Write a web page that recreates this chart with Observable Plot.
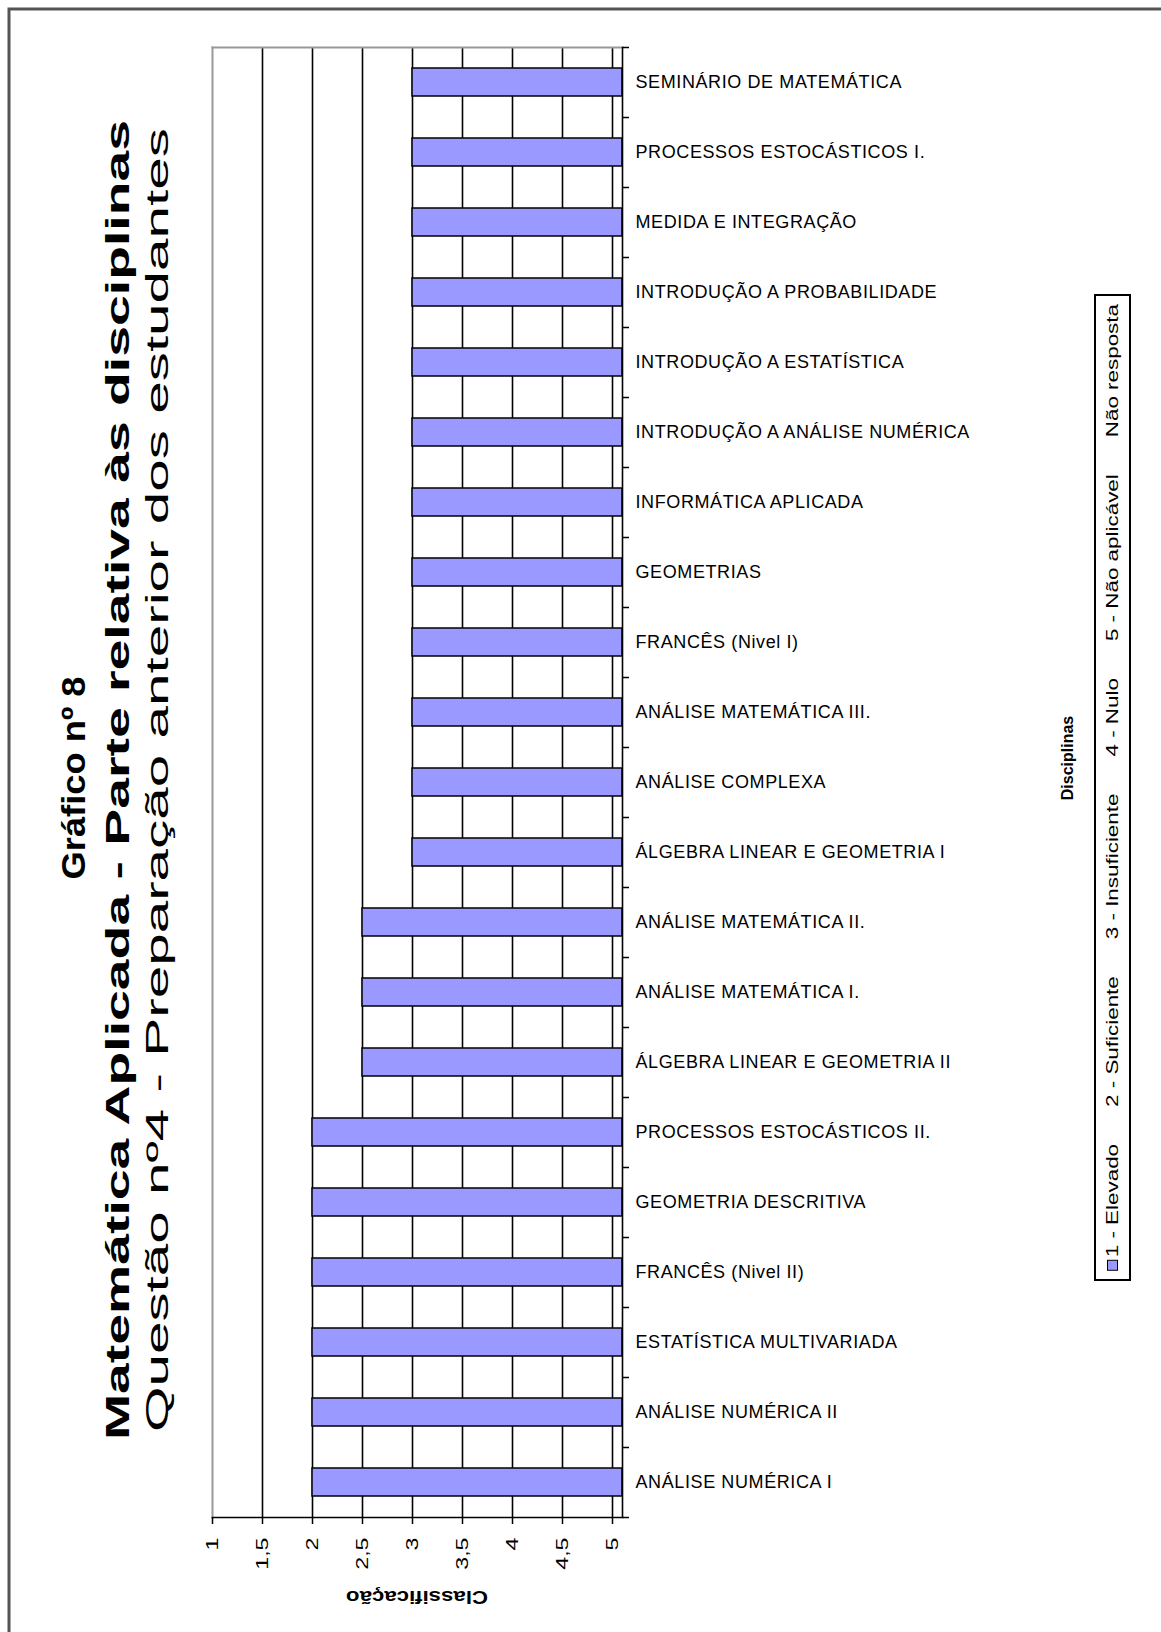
<!DOCTYPE html>
<html><head><meta charset="utf-8">
<script src="https://cdn.jsdelivr.net/npm/d3@7"></script>
<script src="https://cdn.jsdelivr.net/npm/@observablehq/plot@0.6"></script>
<style>
body{margin:0;background:#fff;}
#chart{position:relative;width:1161px;height:1632px;overflow:hidden;background:#fff;}
#chart svg{display:block;}
</style>
</head><body><div id="chart"></div>
<script>
// ---- data ----
const categories = [
  "SEMINÁRIO DE MATEMÁTICA",
  "PROCESSOS ESTOCÁSTICOS I.",
  "MEDIDA E INTEGRAÇÃO",
  "INTRODUÇÃO A PROBABILIDADE",
  "INTRODUÇÃO A ESTATÍSTICA",
  "INTRODUÇÃO A ANÁLISE NUMÉRICA",
  "INFORMÁTICA APLICADA",
  "GEOMETRIAS",
  "FRANCÊS (Nivel I)",
  "ANÁLISE MATEMÁTICA III.",
  "ANÁLISE COMPLEXA",
  "ÁLGEBRA LINEAR E GEOMETRIA I",
  "ANÁLISE MATEMÁTICA II.",
  "ANÁLISE MATEMÁTICA I.",
  "ÁLGEBRA LINEAR E GEOMETRIA II",
  "PROCESSOS ESTOCÁSTICOS II.",
  "GEOMETRIA DESCRITIVA",
  "FRANCÊS (Nivel II)",
  "ESTATÍSTICA MULTIVARIADA",
  "ANÁLISE NUMÉRICA II",
  "ANÁLISE NUMÉRICA I"
];
const values = [3,3,3,3,3,3,3,3,3,3,3,3,2.5,2.5,2.5,2,2,2,2,2,2];
const xTicks = [1,1.5,2,2.5,3,3.5,4,4.5,5];
const axisMax = 5.1;
const titleLines = [
  "Gráfico nº 8",
  "Matemática Aplicada - Parte relativa às disciplinas",
  "Questão nº4 - Preparação anterior dos estudantes"
];
const xAxisTitle = "Classificação";
const legendTitle = "Disciplinas";
const legendLabels = ["Não resposta","5 - Não aplicável","4 - Nulo","3 - Insuficiente","2 - Suficiente","1 - Elevado"];

const data = categories.map((c, i) => ({cat: c, value: values[i]}));

// ---- layout ----
const W = 1161, H = 1632;
const M = {top: 47, right: 539, bottom: 115, left: 212};
const step = (H - M.top - M.bottom) / categories.length;
const FONT = "'Liberation Sans', Arial, sans-serif";
const BAR = "#9999ff";

const chart = Plot.plot({
  width: W, height: H,
  marginTop: M.top, marginRight: M.right, marginBottom: M.bottom, marginLeft: M.left,
  style: {fontFamily: FONT, background: "#fff", color: "#000", overflow: "visible"},
  x: {domain: [1, axisMax]},
  y: {domain: categories, paddingInner: 0.6, paddingOuter: 0.3, align: 0.5},
  marks: [
    Plot.ruleX(xTicks.slice(1), {stroke: "#000", strokeWidth: 1.6}),
    Plot.frame({anchor: "top", stroke: "#999", strokeWidth: 2}),
    Plot.frame({anchor: "left", stroke: "#999", strokeWidth: 2}),
    Plot.barX(data, {y: "cat", x1: "value", x2: () => axisMax, fill: BAR, stroke: "#000", strokeWidth: 1.5}),
    Plot.frame({anchor: "right", stroke: "#000", strokeWidth: 1.6}),
    Plot.frame({anchor: "bottom", stroke: "#000", strokeWidth: 1.6}),
    Plot.axisX({anchor: "bottom", ticks: xTicks, tickSize: 7, tickPadding: 13, tickRotate: -90,
      fontSize: 16, strokeWidth: 1.5, tickFormat: d => String(d).replace(".", ","), label: null}),
    Plot.axisY({anchor: "right", tickSize: 6, dy: step / 2, strokeWidth: 1.5, tickFormat: () => "", label: null}),
    Plot.axisY({anchor: "right", ticks: [categories[0]], tickSize: 6, dy: -step / 2, strokeWidth: 1.5, tickFormat: () => "", label: null}),
    Plot.axisY({anchor: "right", tickSize: 0, tickPadding: 13, fontSize: 18, label: null})
  ]
});
document.getElementById("chart").appendChild(chart);

const svg = d3.select(chart);
// stretch rotated tick labels along their reading direction
svg.selectAll('g[aria-label="x-axis tick label"] text').each(function() {
  const t = this.getAttribute("transform") || "";
  this.setAttribute("transform", t + " scale(1.45,1)");
});
svg.selectAll('g[aria-label="y-axis tick label"] text').attr("letter-spacing", "0.6px");

const over = svg.append("g").attr("font-family", FONT).attr("fill", "#000");
function addText(str, o) {
  const t = over.append("text")
    .attr("transform", `translate(${o.x},${o.y}) rotate(${o.rotate || 0})`)
    .attr("text-anchor", o.anchor || "middle")
    .attr("dominant-baseline", "central")
    .attr("font-size", o.size)
    .attr("font-weight", o.weight || "normal")
    .text(str);
  if (o.length) t.attr("textLength", o.length).attr("lengthAdjust", "spacingAndGlyphs");
  if (o.stretch) {
    const n = t.node().getComputedTextLength();
    t.attr("textLength", n * o.stretch).attr("lengthAdjust", "spacingAndGlyphs");
  }
  return t;
}

// outer frame (only top/left visible)
svg.append("rect").attr("x", 9).attr("y", 9).attr("width", W + 40).attr("height", H + 40)
  .attr("fill", "none").attr("stroke", "#555").attr("stroke-width", 3);

// titles
addText(titleLines[0], {x: 73, y: 778, rotate: -90, size: 34, weight: "bold", length: 203});
addText(titleLines[1], {x: 117, y: 780, rotate: -90, size: 34, weight: "bold", length: 1320});
addText(titleLines[2], {x: 157, y: 780, rotate: -90, size: 31, length: 1304});

// x axis title (upside down)
addText(xAxisTitle, {x: 417, y: 1597, rotate: 180, size: 18, weight: "bold", length: 142});

// legend title
addText(legendTitle, {x: 1067, y: 758, rotate: -90, size: 16, weight: "bold", stretch: 1.0});

// legend box
const lg = {x: 1095, y: 295, w: 35, h: 985};
over.append("rect").attr("x", lg.x).attr("y", lg.y).attr("width", lg.w).attr("height", lg.h)
  .attr("fill", "#fff").attr("stroke", "#000").attr("stroke-width", 2);
const cx = lg.x + lg.w / 2;
let cursor = lg.y + 9;
legendLabels.forEach(lbl => {
  const t = addText(lbl, {x: cx, y: cursor, rotate: -90, size: 16, anchor: "end", stretch: 1.4});
  const len = +t.attr("textLength");
  cursor += len + 37;
});
cursor -= 34;
over.append("rect").attr("x", cx - 5).attr("y", cursor).attr("width", 10).attr("height", 10)
  .attr("fill", BAR).attr("stroke", "#000").attr("stroke-width", 1);
</script>
</body></html>
